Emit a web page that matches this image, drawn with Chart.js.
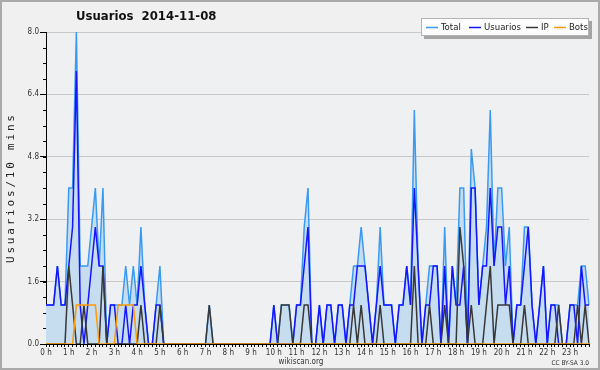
<!DOCTYPE html>
<html>
<head>
<meta charset="utf-8">
<script src="https://cdn.jsdelivr.net/npm/chart.js@4.4.0/dist/chart.umd.min.js"></script>
<style>
  html, body { margin: 0; padding: 0; background: #f0f0f0; }
  canvas { display: block; }
</style>
</head>
<body>
<canvas id="chart" width="600" height="370"></canvas>
<script>
/* ——— data: one value per 10 min slot, 6 per hour ——— */
const HOURS = ['0 h','1 h','2 h','3 h','4 h','5 h','6 h','7 h','8 h','9 h','10 h','11 h',
               '12 h','13 h','14 h','15 h','16 h','17 h','18 h','19 h','20 h','21 h','22 h','23 h'];

const TOTAL = [
    1,1,1,2,1,1,  4,4,8,2,2,2,  3,4,2,4,0,1,  1,1,1,2,1,2,
    1,3,1,0,0,1,  2,0,0,0,0,0,  0,0,0,0,0,0,  0,1,0,0,0,0,
    0,0,0,0,0,0,  0,0,0,0,0,0,  1,0,1,1,1,0,  1,1,3,4,0,0,
    1,0,1,1,0,1,  1,0,1,2,2,3,  2,1,0,1,3,1,  1,1,0,1,1,2,
    1,6,2,0,1,2,  2,2,0,3,0,2,  1,4,4,0,5,4,  1,2,3,6,2,4,
    4,2,3,0,1,1,  3,3,1,0,1,2,  0,1,1,1,0,0,  1,1,1,2,2,1
];
const USUARIOS = [
    1,1,1,2,1,1,  2,3,7,1,0,1,  2,3,2,2,0,1,  1,0,0,1,0,1,
    1,2,1,0,0,1,  1,0,0,0,0,0,  0,0,0,0,0,0,  0,0,0,0,0,0,
    0,0,0,0,0,0,  0,0,0,0,0,0,  1,0,0,0,0,0,  1,1,2,3,0,0,
    1,0,1,1,0,1,  1,0,1,1,2,2,  2,1,0,1,2,1,  1,1,0,1,1,2,
    1,4,2,0,1,1,  2,2,0,2,0,2,  1,1,2,0,4,4,  1,2,2,4,2,3,
    3,1,2,0,1,1,  2,3,1,0,1,2,  0,1,1,0,0,0,  1,1,0,2,1,1
];
const IP = [
    0,0,0,0,0,0,  2,1,0,0,1,0,  0,0,0,2,0,0,  0,0,0,0,0,0,
    0,1,0,0,0,0,  1,0,0,0,0,0,  0,0,0,0,0,0,  0,1,0,0,0,0,
    0,0,0,0,0,0,  0,0,0,0,0,0,  0,0,1,1,1,0,  0,0,1,1,0,0,
    0,0,0,0,0,0,  0,0,0,1,0,1,  0,0,0,0,1,0,  0,0,0,0,0,0,
    0,2,0,0,0,1,  0,0,0,1,0,0,  0,3,2,0,1,0,  0,0,1,2,0,1,
    1,1,1,0,0,0,  1,0,0,0,0,0,  0,0,0,1,0,0,  0,0,1,0,1,0
];
const BOTS = [
    0,0,0,0,0,0,  0,0,1,1,1,1,  1,1,0,0,0,0,  0,1,1,1,1,1,
    0,0,0,0,0,0,  0,0,0,0,0,0,  0,0,0,0,0,0,  0,0,0,0,0,0,
    0,0,0,0,0,0,  0,0,0,0,0,0,  0,0,0,0,0,0,  0,0,0,0,0,0,
    0,0,0,0,0,0,  0,0,0,0,0,0,  0,0,0,0,0,0,  0,0,0,0,0,0,
    0,0,0,0,0,0,  0,0,0,0,0,0,  0,0,0,0,0,0,  0,0,0,0,0,0,
    0,0,0,0,0,0,  0,0,0,0,0,0,  0,0,0,0,0,0,  0,0,0,0,0,0
];
const Y_LABELS = [0, 1.6, 3.2, 4.8, 6.4, 8.0];
const Y_MINOR  = 0.4;

const TITLE  = 'Usuarios  2014-11-08';
const Y_TITLE = 'Usuarios/10 mins';

/* ——— look ——— */
const FONT = '"DejaVu Sans Condensed", "DejaVu Sans", sans-serif';
const MONO = '"DejaVu Sans Mono", monospace';
const C = {
    total: '#3a9af2', fill: '#c6dcef', usuarios: '#1414ff', ip: '#383838', bots: '#ff9900',
    bg: '#f0f0f0', plot: '#eef0f2', grid: '#c8c8c8', text: '#222'
};

const SLOTS = HOURS.flatMap(h => [h, '', '', '', '', '']);

Chart.defaults.font.family = FONT;
Chart.defaults.color = C.text;

/* ——— extra drawing: background, title, legend box, axis title, footer ——— */
const decor = {
    id: 'decor',
    beforeDraw(chart) {
        const {ctx, chartArea: a} = chart;
        ctx.save();
        ctx.fillStyle = C.bg;
        ctx.fillRect(0, 0, chart.width, chart.height);
        ctx.fillStyle = C.plot;
        ctx.fillRect(a.left, a.top, a.right - a.left, a.bottom - a.top);
        ctx.restore();
    },
    afterDraw(chart) {
        const {ctx, chartArea: a} = chart;
        const y = chart.scales.y;
        ctx.save();

        // minor ticks on the y axis
        ctx.strokeStyle = '#000'; ctx.lineWidth = 1;
        for (let v = 0; v <= 8.0001; v += Y_MINOR) {
            const py = Math.round(y.getPixelForValue(v)) + 0.5;
            ctx.beginPath(); ctx.moveTo(a.left - 3, py); ctx.lineTo(a.left, py); ctx.stroke();
        }

        // title
        ctx.fillStyle = '#111';
        ctx.font = `bold 13px ${FONT}`;
        ctx.textBaseline = 'middle';
        ctx.fillText(TITLE, 76, 17);

        // legend box with shadow
        ctx.fillStyle = '#a4a4a4';
        ctx.fillRect(424, 21, 168, 18);
        ctx.fillStyle = '#fdfdfd';
        ctx.fillRect(421, 18, 168, 18);
        ctx.strokeStyle = '#b4b4b4';
        ctx.strokeRect(421.5, 18.5, 167, 17);
        const items = [['Total', C.total, 426], ['Usuarios', C.usuarios, 469],
                       ['IP', C.ip, 526], ['Bots', C.bots, 554]];
        ctx.font = `9.5px ${FONT}`;
        ctx.lineWidth = 1.5;
        items.forEach(([name, col, x]) => {
            ctx.strokeStyle = col;
            ctx.beginPath(); ctx.moveTo(x, 27.5); ctx.lineTo(x + 12, 27.5); ctx.stroke();
            ctx.fillStyle = '#222';
            ctx.fillText(name, x + 15, 27.5);
        });

        // y axis title, spread over the plot height
        ctx.font = `11px ${MONO}`;
        const w = ctx.measureText(Y_TITLE).width;
        ctx.letterSpacing = Math.max(0, (148 - w) / (Y_TITLE.length - 1)).toFixed(2) + 'px';
        ctx.translate(11, 263);
        ctx.rotate(-Math.PI / 2);
        ctx.textAlign = 'left';
        ctx.fillStyle = '#222';
        ctx.fillText(Y_TITLE, 0, 0);
        ctx.setTransform(1, 0, 0, 1, 0, 0);
        ctx.letterSpacing = '0px';

        // footer
        ctx.textAlign = 'center';
        ctx.font = `8px ${FONT}`;
        ctx.fillStyle = '#333';
        ctx.fillText('wikiscan.org', 301, 362);
        ctx.textAlign = 'right';
        ctx.font = `6.5px ${FONT}`;
        ctx.fillText('CC BY-SA 3.0', 589, 363);

        // frame
        ctx.strokeStyle = '#aaaaaa'; ctx.lineWidth = 2;
        ctx.strokeRect(1, 1, chart.width - 2, chart.height - 2);
        ctx.restore();
    }
};

const line = (label, data, colour, extra) => Object.assign({
    label, data, borderColor: colour, borderWidth: 1.5,
    pointRadius: 0, tension: 0, fill: false
}, extra);

new Chart(document.getElementById('chart'), {
    type: 'line',
    data: {
        labels: SLOTS,
        datasets: [
            line('Total', TOTAL, C.total, {fill: 'origin', backgroundColor: C.fill, order: 4}),
            line('Usuarios', USUARIOS, C.usuarios, {order: 3}),
            line('IP', IP, C.ip, {order: 2}),
            line('Bots', BOTS, C.bots, {order: 1})
        ]
    },
    options: {
        responsive: false,
        animation: false,
        layout: {padding: {top: 32, right: 11, left: 0, bottom: 0}},
        plugins: {legend: {display: false}, title: {display: false}, tooltip: {enabled: false}},
        scales: {
            x: {
                type: 'category',
                offset: false,
                grid: {drawOnChartArea: false, offset: false, tickLength: 3, tickColor: '#000'},
                border: {color: '#000', width: 1},
                ticks: {
                    autoSkip: false, maxRotation: 0, minRotation: 0, padding: 1,
                    font: {size: 8}, color: '#333',
                    callback: v => SLOTS[v]
                },
                afterFit: s => { s.height = 26; }
            },
            y: {
                min: 0, max: 8,
                afterBuildTicks: s => { s.ticks = Y_LABELS.map(v => ({value: v})); },
                grid: {
                    color: c => c.tick && c.tick.value === 0 ? 'rgba(0,0,0,0)' : C.grid,
                    tickLength: 6, tickColor: '#000'
                },
                border: {color: '#000', width: 1},
                ticks: {padding: 1, font: {size: 8}, color: '#333', callback: v => v.toFixed(1)},
                afterFit: s => { s.width = 46; }
            }
        }
    },
    plugins: [decor]
});
</script>
</body>
</html>
